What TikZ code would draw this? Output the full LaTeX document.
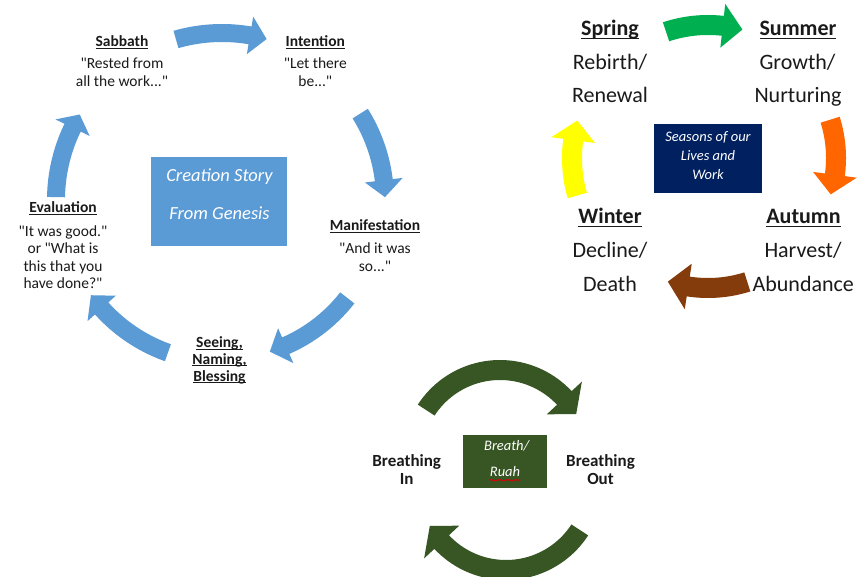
\documentclass[tikz,border=0pt]{standalone}
\usepackage{fontspec}
\setmainfont{Carlito}[Ligatures=TeXOff]
\usetikzlibrary{decorations.pathmorphing}
\definecolor{cblue}{HTML}{5B9BD5}
\definecolor{cgreen}{HTML}{00B050}
\definecolor{corange}{HTML}{FF6600}
\definecolor{cbrown}{HTML}{843C0C}
\definecolor{cyellow}{HTML}{FFFF00}
\definecolor{cnavy}{HTML}{002060}
\definecolor{cdkgreen}{HTML}{375623}
\definecolor{ctext}{HTML}{1A1A1A}
\newcommand\myul[1]{\setbox0\hbox{#1}\rlap{\rule[-0.14em]{\wd0}{0.07em}}\box0}
% curved block arrow: colour, cx, cy, r, tail angle, tip angle, body width, head width, head length
\newcommand\carr[9]{%
  \pgfmathsetmacro\sg{ifthenelse(#5>#6,1,-1)}%
  \pgfmathsetmacro\hA{#6+\sg*#9/#4*57.2958}%
  \pgfmathsetmacro\Ro{#4+#7/2}\pgfmathsetmacro\Ri{#4-#7/2}%
  \pgfmathsetmacro\Ho{#4+#8/2}\pgfmathsetmacro\Hi{#4-#8/2}%
  \fill[#1] plot[domain=#5:\hA,samples=40] ({#2+\Ro*cos(\x)},{#3-\Ro*sin(\x)})
    -- ({#2+\Ho*cos(\hA)},{#3-\Ho*sin(\hA)})
    -- ({#2+#4*cos(#6)},{#3-#4*sin(#6)})
    -- ({#2+\Hi*cos(\hA)},{#3-\Hi*sin(\hA)})
    -- plot[domain=\hA:#5,samples=40] ({#2+\Ri*cos(\x)},{#3-\Ri*sin(\x)}) -- cycle;}
\tikzset{
  lbl/.style={anchor=base,inner sep=0pt,text=ctext},
  ctitle/.style={lbl,font=\fontsize{15.5}{18}\selectfont\bfseries},
  cbody/.style={lbl,font=\fontsize{15.5}{18}\selectfont},
  stitle/.style={lbl,font=\fontsize{22}{26}\selectfont\bfseries},
  sbody/.style={lbl,font=\fontsize{22}{26}\selectfont},
  btitle/.style={lbl,font=\fontsize{17}{20}\selectfont\bfseries},
  boxtxt/.style={anchor=base,inner sep=0pt,text=white,font=\itshape},
  panel/.style={draw=none,inner sep=0pt}
}
\begin{document}
\begin{tikzpicture}[x=1pt,y=-1pt]
\fill[white] (0,0) rectangle (867,577);
\useasboundingbox (0,0) rectangle (867,577);

% ---------- Creation cycle ----------
\carr{cblue}{222}{200}{167}{106}{74.5}{18}{38}{17}
\carr{cblue}{222}{200}{163}{32}{1}{18}{38}{17}
\carr{cblue}{222}{200}{159}{-38}{-72.5}{18}{38}{17}
\carr{cblue}{222}{200}{162}{250.5}{216}{18}{38}{17}
\carr{cblue}{222}{200}{166}{179}{149}{18}{38}{15}

\node[panel,fill=cblue,minimum width=136.6pt,minimum height=88.7pt] (cbox) at (219,201.7) {};
\node[boxtxt,font=\fontsize{18.5}{22}\selectfont\itshape] (ctxt1) at (219.5,181.7) {Creation Story};
\node[boxtxt,font=\fontsize{18.5}{22}\selectfont\itshape] (ctxt2) at (219.5,219.3) {From Genesis};

\node[ctitle] (sabT) at (122,46.5) {\myul{Sabbath}};
\node[cbody] (sab1) at (122,69) {"Rested from};
\node[cbody] (sab2) at (122,87) {all the work..."};

\node[ctitle] (intT) at (315.3,46.5) {\myul{Intention}};
\node[cbody] (int1) at (315.3,69) {"Let there};
\node[cbody] (int2) at (315.3,87) {be..."};

\node[ctitle] (manT) at (375,230.7) {\myul{Manifestation}};
\node[cbody] (man1) at (375,254) {"And it was};
\node[cbody] (man2) at (375,271.7) {so..."};

\node[ctitle] (seeT1) at (219.5,347.7) {\myul{Seeing,}};
\node[ctitle] (seeT2) at (219.5,364.3) {\myul{Naming,}};
\node[ctitle] (seeT3) at (219.5,381) {\myul{Blessing}};

\node[ctitle] (evaT) at (63,212.5) {\myul{Evaluation}};
\node[cbody] (eva1) at (63,236.7) {"It was good."};
\node[cbody] (eva2) at (63,254) {or "What is};
\node[cbody] (eva3) at (63,271.7) {this that you};
\node[cbody] (eva4) at (63,288.7) {have done?"};

% ---------- Seasons cycle ----------
\carr{cgreen}{708}{158}{133}{108.4}{75}{20}{44}{20}
\carr{corange}{708}{158}{128}{17.4}{-16.5}{20}{44}{20}
\carr{cbrown}{708}{158}{130}{-72.4}{-108}{20}{46}{21}
\carr{cyellow}{708}{158}{136}{196}{164}{20}{44}{20}

\node[panel,fill=cnavy,minimum width=107.4pt,minimum height=69.3pt] (sbox) at (708,158.7) {};
\node[boxtxt,font=\fontsize{14.5}{17}\selectfont\itshape] (stxt1) at (708,141.7) {Seasons of our};
\node[boxtxt,font=\fontsize{14.5}{17}\selectfont\itshape] (stxt2) at (708,161) {Lives and};
\node[boxtxt,font=\fontsize{14.5}{17}\selectfont\itshape] (stxt3) at (708,180) {Work};

\node[stitle] (spT) at (610,36) {\myul{Spring}};
\node[sbody] (sp1) at (610,70) {Rebirth/};
\node[sbody] (sp2) at (610,102.7) {Renewal};

\node[stitle] (suT) at (798,36) {\myul{Summer}};
\node[sbody] (su1) at (797.5,70) {Growth/};
\node[sbody] (su2) at (798,102.7) {Nurturing};

\node[stitle] (wiT) at (610,224) {\myul{Winter}};
\node[sbody] (wi1) at (610,257.7) {Decline/};
\node[sbody] (wi2) at (610,291.7) {Death};

\node[stitle] (auT) at (803.5,224) {\myul{Autumn}};
\node[sbody] (au1) at (803,257.7) {Harvest/};
\node[sbody] (au2) at (803.3,291.7) {Abundance};

% ---------- Breath cycle ----------
\carr{cdkgreen}{500}{458}{88}{147}{30}{20}{48}{20}
\carr{cdkgreen}{506}{482}{88}{-33}{-150}{20}{48}{20}

\node[panel,fill=cdkgreen,minimum width=84pt,minimum height=53.3pt] (bbox) at (505.3,461.7) {};
\node[boxtxt,font=\fontsize{14.5}{17}\selectfont\itshape] (btxt1) at (506.7,450.7) {Breath/};
\node[boxtxt,font=\fontsize{14.5}{17}\selectfont\itshape] (btxt2) at (505,476.7) {Ruah};
\draw[red!85!black,line width=0.7pt,decorate,decoration={snake,amplitude=0.7pt,segment length=2.6pt}]
  ([yshift=-3.5pt]btxt2.base west) -- ([yshift=-3.5pt]btxt2.base east);

\node[btitle] (biT1) at (406.7,466) {Breathing};
\node[btitle] (biT2) at (406.7,484) {In};
\node[btitle] (boT1) at (600.5,466) {Breathing};
\node[btitle] (boT2) at (600.5,484) {Out};
\end{tikzpicture}
\end{document}
